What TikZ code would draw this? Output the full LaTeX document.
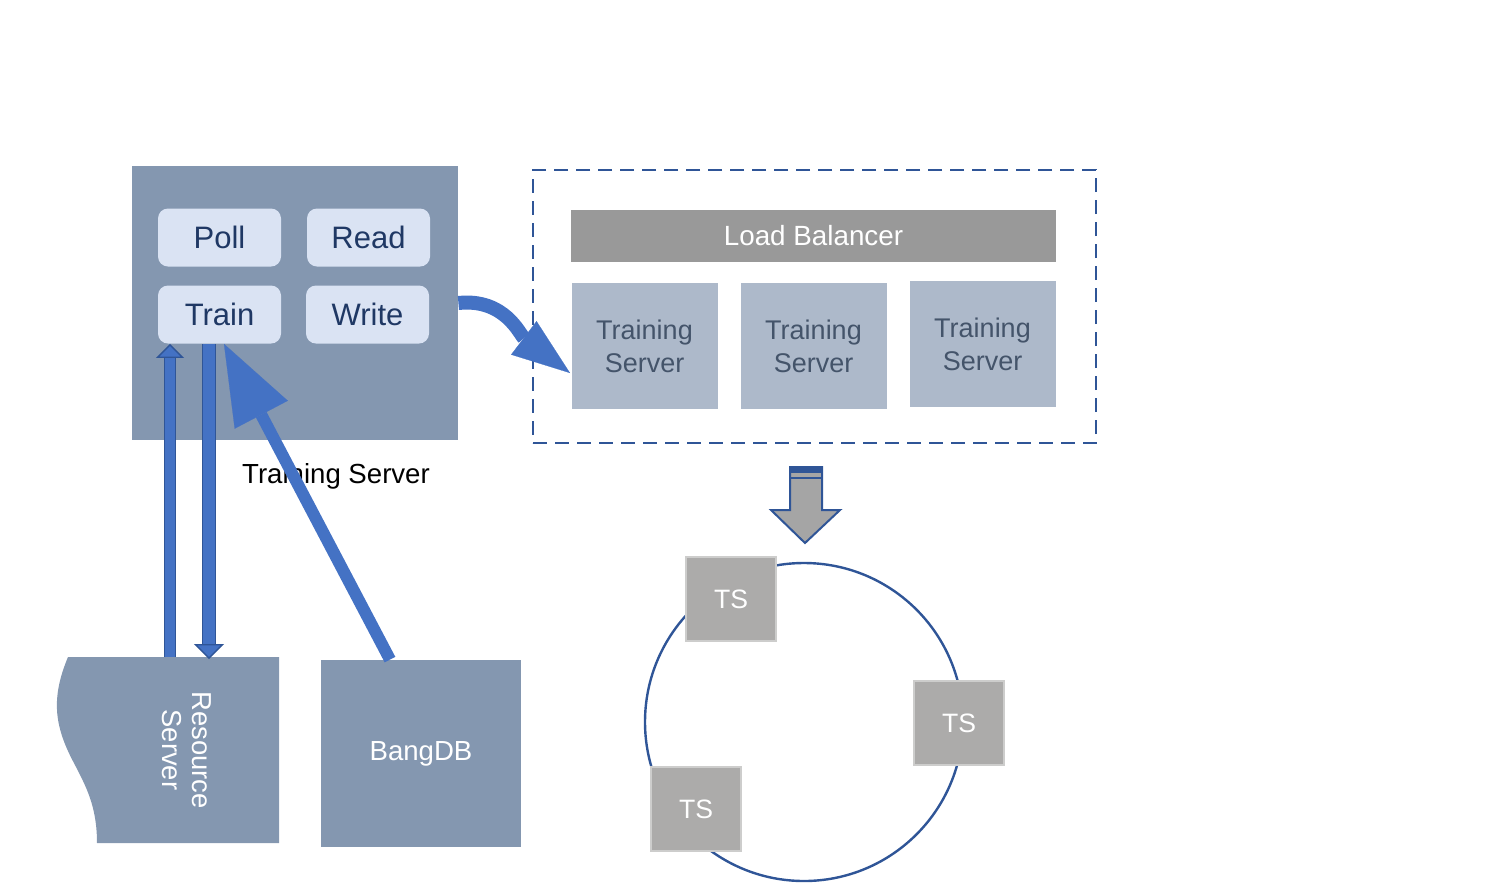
\documentclass[tikz,border=0pt]{standalone}
\usepackage{fontspec}
\setmainfont{Liberation Sans}
\definecolor{slateblue}{RGB}{132,151,176}
\definecolor{paleblue}{RGB}{218,227,243}
\definecolor{navytext}{RGB}{31,56,100}
\definecolor{greyblue}{RGB}{173,185,202}
\definecolor{greytext}{RGB}{68,84,106}
\definecolor{lbgrey}{RGB}{153,153,153}
\definecolor{tsgrey}{RGB}{172,171,170}
\definecolor{blockgrey}{RGB}{165,165,165}
\definecolor{arrowblue}{RGB}{68,114,196}
\definecolor{edgeblue}{RGB}{47,85,151}
\usetikzlibrary{shapes,arrows.meta,calc}
\tikzstyle{container} = [rectangle, fill=slateblue, inner sep=0pt,
    minimum width=163pt, minimum height=137pt]
\tikzstyle{task} = [rectangle, fill=paleblue, text=navytext, rounded corners=5pt,
    minimum width=61.5pt, minimum height=29pt, font=\fontsize{15.5}{18}\selectfont]
\tikzstyle{worker} = [rectangle, fill=greyblue, text=greytext, text width=70pt,
    text centered, minimum width=73pt, minimum height=63pt, inner sep=0pt,
    font=\fontsize{13.5}{16.5}\selectfont]
\tikzstyle{lbbar} = [rectangle, fill=lbgrey, text=white, minimum width=242.5pt,
    minimum height=26pt, font=\fontsize{13.9}{16}\selectfont]
\tikzstyle{pool} = [rectangle, draw=edgeblue, line width=1.2pt, dash pattern=on 7pt off 4pt,
    minimum width=281.5pt, minimum height=136.5pt]
\tikzstyle{store} = [rectangle, fill=slateblue, text=white, minimum width=100pt,
    minimum height=93.5pt, font=\fontsize{13.8}{16}\selectfont]
\tikzstyle{sidetext} = [text=white, rotate=-90, align=center,
    font=\fontsize{13.7}{15}\selectfont]
\tikzstyle{caption} = [text=black, font=\fontsize{13.8}{16}\selectfont]
\tikzstyle{ring} = [circle, draw=edgeblue, line width=1.2pt, minimum size=159pt, inner sep=0pt]
\tikzstyle{ts} = [rectangle, fill=tsgrey, draw=tsgrey!60!white, line width=0.6pt, text=white,
    minimum width=45pt, minimum height=42pt, font=\fontsize{13.3}{16}\selectfont]
\tikzstyle{duct} = [draw=edgeblue, line width=0.7pt, double=arrowblue, double distance=4.6pt,
    -{Triangle[length=7pt, width=14pt, fill=arrowblue]}]
\tikzstyle{bigline} = [draw=arrowblue, line width=6pt,
    -{Triangle[length=40pt, width=30pt, line width=0.1pt]}]
\tikzstyle{curve} = [draw=arrowblue, line width=7pt,
    -{Triangle[length=29pt, width=21pt, line width=0.1pt]}]

\begin{document}
\begin{tikzpicture}[x=0.5pt, y=-0.5pt, node distance=74.5pt, auto]
  \useasboundingbox (0,0) rectangle (1486,889);
  % training server with its tasks
  \node [container] (trainsrv) at (295,303) {};
  \node [task] (poll) at (219.5,237.5) {Poll};
  \node [task, right of=poll] (read) {Read};
  \node [task, below of=poll, node distance=38.5pt] (train) {Train};
  \node [task, right of=train, node distance=74pt] (write) {Write};
  \node [caption] (trainlbl) at (336,476) {Training Server};
  % resource server and database
  \fill [slateblue] (68,657) -- (279,657) -- (279,843) -- (97,843)
    .. controls (97,805) and (85,785) .. (75,765)
    .. controls (55,728) and (50,700) .. (68,657);
  \node [sidetext] (res) at (187,750) {Resource\\Server};
  \node [store] (bang) at (421,753.5) {BangDB};
  % load balanced cluster
  \node [lbbar] (lb) at (813.5,236) {Load Balancer};
  \node [worker, below of=lb, node distance=55pt] (ws2) {Training\\Server};
  \node [worker, left of=ws2, node distance=84.5pt] (ws1) {Training\\Server};
  \node [worker, right of=ws2, node distance=84.5pt, yshift=1pt] (ws3) {Training\\Server};
  \node [pool] (cluster) at (814.5,306.5) {};
  % ring of training servers
  \filldraw [fill=blockgrey, draw=edgeblue, line width=1pt] (790,467) -- (822,467) -- (822,510)
    -- (840,510) -- (805,543) -- (771,510) -- (790,510) -- cycle;
  \fill [edgeblue] (790,467) rectangle (822,473);
  \draw [edgeblue, line width=0.8pt] (790,478) -- (822,478);
  \node [ring] (ring) at (804,722) {};
  \node [ts] (ts1) at (731,599) {TS};
  \node [ts] (ts2) at (959,723) {TS};
  \node [ts] (ts3) at (696,809) {TS};
  % connectors
  \coordinate (resup) at (170,657);
  \coordinate (resdown) at (209,659);
  \coordinate (lbin) at (570,373);
  \path [duct] (resup) -- (resup |- train.south);
  \path [duct, double distance=5.6pt, -{Triangle[length=7.5pt, width=15pt, fill=arrowblue]}]
    (resdown |- train.south) -- (resdown);
  \path [bigline] ($(bang.north)+(-31,0)$) -- ($(train.south)+(4.5,0)$);
  \path [curve] (trainsrv.east) .. controls (505,298) and (520,335) .. (lbin);
\end{tikzpicture}
\end{document}
